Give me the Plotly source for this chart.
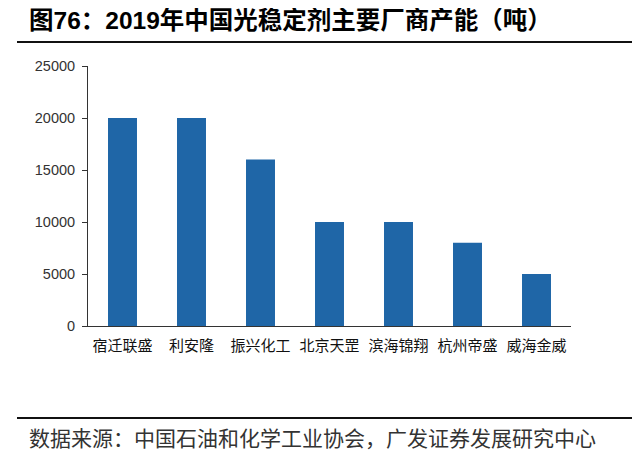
import plotly.graph_objects as go

# % Data
companies = ["宿迁联盛", "利安隆", "振兴化工", "北京天罡", "滨海锦翔", "杭州帝盛", "威海金威"]
capacity = [20000, 20000, 16000, 10000, 10000, 8000, 5000]
y_ticks = [0, 5000, 10000, 15000, 20000, 25000]

title_text = "图76：2019年中国光稳定剂主要厂商产能（吨）"
source_text = "数据来源：中国石油和化学工业协会，广发证券发展研究中心"

# page body has an 8px margin, so figure coords = screen coords - 8
OFF = 8
W, H = 640, 464
L, R, T, B = 88 - OFF, 69 + OFF, 66 - OFF, 138 + OFF
plot_w = W - L - R
plot_h = H - T - B


def px_x(x):
    # screen x -> paper x
    return (x - OFF - L) / plot_w


def px_y(y):
    # screen y -> paper y
    return (H - B - (y - OFF)) / plot_h


cjk = "Noto Sans CJK SC"

fig = go.Figure(
    go.Bar(
        x=companies,
        y=capacity,
        marker=dict(color="#1F66A7", line=dict(width=0)),
        width=0.42,
    )
)

fig.update_layout(
    width=W,
    height=H,
    margin=dict(l=L, r=R, t=T, b=B),
    paper_bgcolor="white",
    plot_bgcolor="white",
    showlegend=False,
    font=dict(family="Liberation Sans, Arial", color="#333333"),
)

fig.update_yaxes(
    range=[0, 25000],
    tickvals=y_ticks,
    ticktext=[str(v) for v in y_ticks],
    showgrid=False,
    zeroline=False,
    showline=True,
    linecolor="#333333",
    linewidth=1,
    ticks="outside",
    ticklen=5,
    tickcolor="#333333",
    tickfont=dict(size=14.5, color="#333333"),
    ticklabelstandoff=4,
)
fig.update_xaxes(
    showgrid=False,
    showline=True,
    linecolor="#333333",
    linewidth=1,
    ticks="",
    tickfont=dict(size=15, family=cjk, color="#111111"),
    ticklabelstandoff=6,
)

# header / footer rules
for y in (42, 418):
    fig.add_shape(
        type="line", xref="paper", yref="paper",
        x0=px_x(17), x1=px_x(640), y0=px_y(y), y1=px_y(y),
        line=dict(color="#111111", width=2),
    )

fig.add_annotation(
    text="<b>" + title_text + "</b>",
    xref="paper", yref="paper", x=px_x(27), y=px_y(21),
    xanchor="left", yanchor="middle", showarrow=False,
    font=dict(size=24.5, family="Liberation Sans, " + cjk, color="#000000"),
)
fig.add_annotation(
    text=source_text,
    xref="paper", yref="paper", x=px_x(27), y=px_y(437),
    xanchor="left", yanchor="middle", showarrow=False,
    font=dict(size=21, family=cjk, color="#333333"),
)

fig.write_html("out.html")
